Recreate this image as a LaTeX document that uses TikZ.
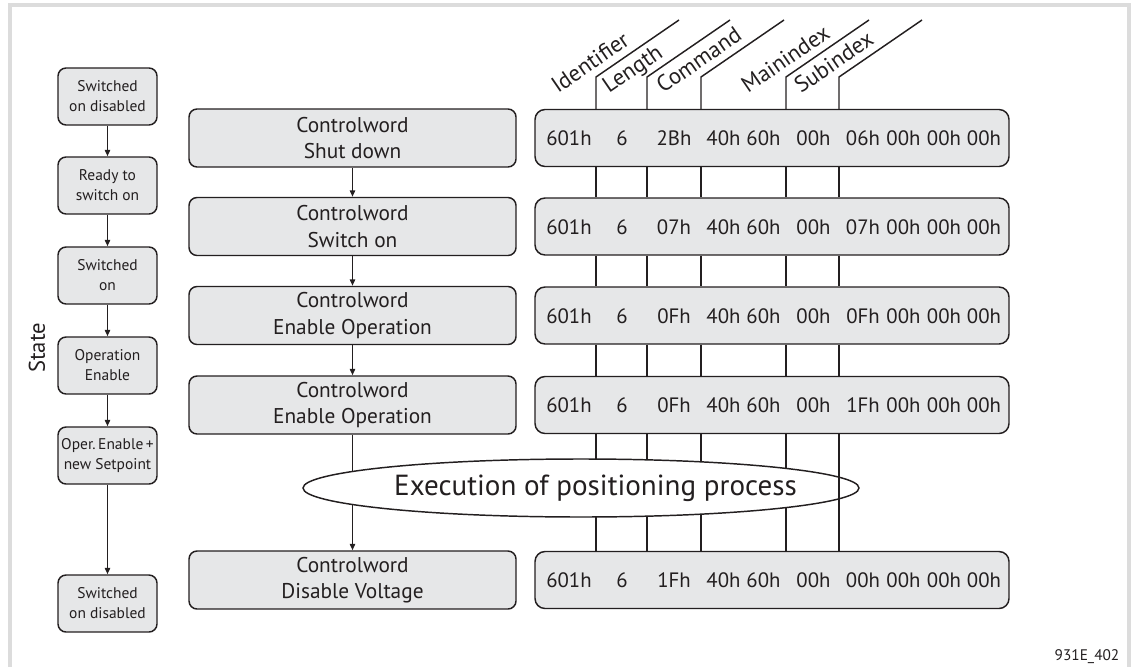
\documentclass[tikz,border=0pt]{standalone}
\usepackage{fontspec}
\setmainfont{PT Sans}
\usetikzlibrary{arrows.meta,shapes.geometric,calc}
\definecolor{ink}{HTML}{231F20}
\definecolor{boxgrey}{HTML}{E6E7E8}
\definecolor{framegrey}{HTML}{DCDCDC}
\tikzset{
  frameline/.style={draw=framegrey, line width=3pt},
  box/.style={draw=ink, fill=boxgrey, line width=1.1pt, rounded corners=6pt, inner sep=0pt, text=ink},
  statebox/.style={box, minimum width=74.25pt, minimum height=42.75pt,
    font=\fontsize{11.6}{15}\selectfont, align=center},
  wordbox/.style={box, minimum width=245.25pt, minimum height=43.5pt,
    font=\fontsize{16}{20}\selectfont, align=center},
  databox/.style={box, rounded corners=7.5pt, minimum width=355.5pt, minimum height=42.75pt},
  field/.style={font=\fontsize{15.6}{18}\selectfont, anchor=base, inner sep=0pt, text=ink},
  link/.style={draw=ink, line width=1.1pt},
  arr/.style={link, -{Triangle[length=4.8pt,width=4pt]}},
  head/.style={font=\fontsize{17}{20}\selectfont, rotate=34.5, anchor=base west, inner sep=0pt, text=ink},
  cloud/.style={ellipse, draw=ink, fill=white, line width=1.1pt, inner sep=0pt,
    minimum width=417pt, minimum height=43.5pt},
}
\begin{document}
\begin{tikzpicture}[x=0.75pt,y=-0.75pt]
\useasboundingbox (0,0) rectangle (1131,667);

% outer frame (top, left and right edges)
\draw[frameline] (10,667) -- (10,5) -- (1129,5) -- (1129,667);

% state column
\node[statebox] (s1) at (107.5,96.5)  {Switched\\on disabled};
\node[statebox] (s2) at (107.5,185.5) {Ready to\\switch on};
\node[statebox] (s3) at (107.5,275.5) {Switched\\on};
\node[statebox] (s4) at (107.5,365.5) {Operation\\Enable};
\node[statebox] (s5) at (107.5,455.5) {Oper.\,Enable\,+\\new Setpoint};
\node[statebox] (s6) at (107.5,603.5) {Switched\\on disabled};
\node[font=\fontsize{17}{20}\selectfont, rotate=90, text=ink] (state) at (37,348) {State};

\foreach \a/\b in {s1/s2,s2/s3,s3/s4,s4/s5,s5/s6}
  \draw[arr] (\a.south) -- (\b.north);

% controlword column
\node[wordbox] (m1) at (352.5,138)   {Controlword\\Shut down};
\node[wordbox] (m2) at (352.5,226.5) {Controlword\\Switch on};
\node[wordbox] (m3) at (352.5,315.5) {Controlword\\Enable Operation};
\node[wordbox] (m4) at (352.5,405)   {Controlword\\Enable Operation};
\node[wordbox] (m6) at (352.5,580)   {Controlword\\Disable Voltage};

\foreach \a/\b in {m1/m2,m2/m3,m3/m4,m4/m6}
  \draw[arr] (\a.south) -- (\b.north);

% telegram column
\foreach \r/\y/\cmd/\sub in {1/138/2Bh/06h, 2/226.5/07h/07h, 3/315.5/0Fh/0Fh, 4/405/0Fh/1Fh, 6/580/1Fh/00h}{
  \node[databox] (d\r) at (772,\y) {};
  \foreach \v/\cx [count=\i] in {601h/569, 6/622, \cmd/674, 40h/723.5, 60h/763.5,
                                 00h/813.5, \sub/863, 00h/903.5, 00h/944, 00h/984}
    \node[field] (f\r-\i) at (\cx,\y+7.5) {\v};
}

% field boundaries with their slanted headings
\coordinate (b1) at (596,77);
\coordinate (b2) at (647,77);
\coordinate (b3) at (701,77);
\coordinate (b4) at (786,77);
\coordinate (b5) at (839,77);
\foreach \b/\t in {b1/Identifier, b2/Length, b3/Command, b4/Mainindex, b5/Subindex}{
  \draw[link] (\b |- d1.north) -- (\b) -- ++(83,-57);
  \node[head] at ($(\b)+(-38,17)$) {\t};
}
\foreach \b in {b1,b2,b3,b4,b5}
  \foreach \a/\c in {d1/d2,d2/d3,d3/d4}
    \draw[link] (\a.south -| \b) -- (\c.north -| \b);
\foreach \b in {b1,b2,b3,b4}
  \draw[link] (d4.south -| \b) -- (d6.north -| \b);

% positioning phase
\node[cloud] (exec) at (581,488) {};
\node[font=\fontsize{21.8}{24}\selectfont, anchor=base, inner sep=0pt, text=ink] (exectext) at (595.5,495) {Execution of positioning process};
\draw[link] (d4.south -| b5) -- (d6.north -| b5);

% drawing number
\node[font=\fontsize{11.5}{13}\selectfont, text=ink] (num) at (1087,657) {931E\_402};
\end{tikzpicture}
\end{document}
